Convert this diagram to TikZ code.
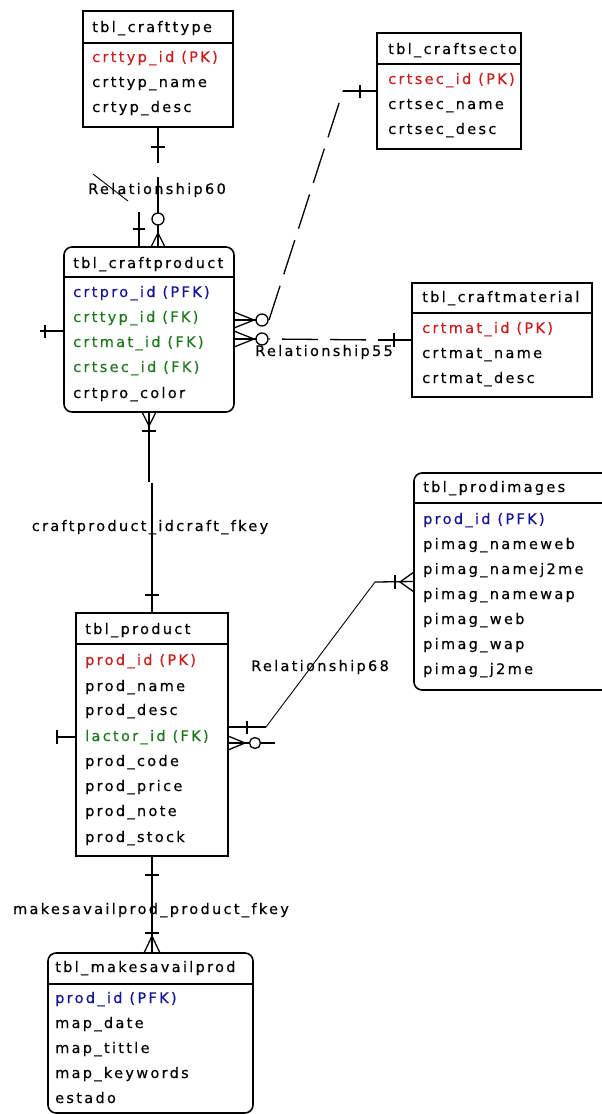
\documentclass[tikz,border=0pt]{standalone}
\usepackage{fontspec}
\setmainfont[LetterSpace=16,FakeBold=0.4]{DejaVu Sans}
\usetikzlibrary{calc}

\definecolor{pkred}{RGB}{200,30,30}
\definecolor{pfkblue}{RGB}{20,20,150}
\definecolor{fkgreen}{RGB}{30,120,30}

\begin{document}
\begin{tikzpicture}[x=1pt,y=-1pt,
  tbl/.style={draw,line width=1.6pt,inner sep=0pt,outer sep=0pt},
  rtbl/.style={tbl,rounded corners=8pt},
  txt/.style={anchor=base west,inner sep=0pt,font=\fontsize{14.5}{16}\selectfont},
  lbl/.style={anchor=base,inner sep=0pt,font=\fontsize{14.5}{16}\selectfont},
  rel/.style={line width=1.3pt},
  slim/.style={line width=0.9pt},
  dashrel/.style={rel,dash pattern=on 36pt off 12pt}]

\useasboundingbox[fill=white] (0,0) rectangle (602,1114);

% tables
\node[tbl,minimum width=150pt,minimum height=116pt] (crafttype) at (158,69) {};
\draw[tbl] ([yshift=-32pt]crafttype.north west) -- ([yshift=-32pt]crafttype.north east);
\node[txt] (ct0) at (92,32) {tbl\_crafttype};
\node[txt,text=pkred] (ct1) at (92,62) {crttyp\_id (PK)};
\node[txt] (ct2) at (92,87) {crttyp\_name};
\node[txt] (ct3) at (92,112) {crtyp\_desc};

\node[tbl,minimum width=144pt,minimum height=116pt] (craftsector) at (449,91) {};
\draw[tbl] ([yshift=-31pt]craftsector.north west) -- ([yshift=-31pt]craftsector.north east);
\begin{scope}
\clip (craftsector.north west) rectangle ([xshift=-1pt]craftsector.south east);
\node[txt] (cs0) at (388,54) {tbl\_craftsector};
\end{scope}
\node[txt,text=pkred] (cs1) at (388,84) {crtsec\_id (PK)};
\node[txt] (cs2) at (388,109) {crtsec\_name};
\node[txt] (cs3) at (388,134) {crtsec\_desc};

\node[tbl,minimum width=180pt,minimum height=114pt] (craftmaterial) at (502,340) {};
\draw[tbl] ([yshift=-30pt]craftmaterial.north west) -- ([yshift=-30pt]craftmaterial.north east);
\node[txt] (cm0) at (422,302) {tbl\_craftmaterial};
\node[txt,text=pkred] (cm1) at (422,333) {crtmat\_id (PK)};
\node[txt] (cm2) at (422,358) {crtmat\_name};
\node[txt] (cm3) at (422,383) {crtmat\_desc};

\node[rtbl,minimum width=170pt,minimum height=165pt] (craftproduct) at (149,329.5) {};
\draw[tbl] ([yshift=-30pt]craftproduct.north west) -- ([yshift=-30pt]craftproduct.north east);
\node[txt] (cp0) at (73,268) {tbl\_craftproduct};
\node[txt,text=pfkblue] (cp1) at (73,297) {crtpro\_id (PFK)};
\node[txt,text=fkgreen] (cp2) at (73,322) {crttyp\_id (FK)};
\node[txt,text=fkgreen] (cp3) at (73,347) {crtmat\_id (FK)};
\node[txt,text=fkgreen] (cp4) at (73,372) {crtsec\_id (FK)};
\node[txt] (cp5) at (73,398) {crtpro\_color};

\node[tbl,minimum width=152pt,minimum height=243pt] (product) at (152,734.5) {};
\draw[tbl] ([yshift=-31pt]product.north west) -- ([yshift=-31pt]product.north east);
\node[txt] (pr0) at (85,634) {tbl\_product};
\node[txt,text=pkred] (pr1) at (85,665) {prod\_id (PK)};
\node[txt] (pr2) at (85,691) {prod\_name};
\node[txt] (pr3) at (85,715) {prod\_desc};
\node[txt,text=fkgreen] (pr4) at (85,741) {lactor\_id (FK)};
\node[txt] (pr5) at (85,766) {prod\_code};
\node[txt] (pr6) at (85,791) {prod\_price};
\node[txt] (pr7) at (85,816) {prod\_note};
\node[txt] (pr8) at (85,842) {prod\_stock};

\node[rtbl,minimum width=208pt,minimum height=217pt] (prodimages) at (518,581.5) {};
\draw[tbl] ([yshift=-30pt]prodimages.north west) -- ([yshift=-30pt]prodimages.north east);
\node[txt] (pi0) at (423,492) {tbl\_prodimages};
\node[txt,text=pfkblue] (pi1) at (423,524) {prod\_id (PFK)};
\node[txt] (pi2) at (423,549) {pimag\_nameweb};
\node[txt] (pi3) at (423,574) {pimag\_namej2me};
\node[txt] (pi4) at (423,599) {pimag\_namewap};
\node[txt] (pi5) at (423,624) {pimag\_web};
\node[txt] (pi6) at (423,649) {pimag\_wap};
\node[txt] (pi7) at (423,674) {pimag\_j2me};

\node[rtbl,minimum width=205pt,minimum height=160pt] (makesavail) at (150.5,1033) {};
\draw[tbl] ([yshift=-31pt]makesavail.north west) -- ([yshift=-31pt]makesavail.north east);
\node[txt] (ma0) at (55,972) {tbl\_makesavailprod};
\node[txt,text=pfkblue] (ma1) at (55,1003) {prod\_id (PFK)};
\node[txt] (ma2) at (55,1028) {map\_date};
\node[txt] (ma3) at (55,1053) {map\_tittle};
\node[txt] (ma4) at (55,1078) {map\_keywords};
\node[txt] (ma5) at (55,1103) {estado};

% Relationship60
\draw[rel] (crafttype.south) -- ++(0,36);
\draw[rel] (crafttype.south |- 0,177) -- ++(0,36);
\draw[rel] (158,147) -- ++(-7,0) -- ++(14,0);
\draw[rel] (158,219) circle[radius=6pt];
\draw[rel] (158,225) -- (crafttype.south |- craftproduct.north);
\draw[rel] (151,247) -- (158,233) -- (165,247);
\draw[rel] (139,212) -- (139,247) (133,229) -- (145,229);
\draw[slim] (93,174) -- (128,201);
\node[lbl] (rel60) at (157,194) {Relationship60};

% left stub of craftproduct
\draw[rel] (craftproduct.west |- 0,331) -- (40,331) (45,325) -- (45,338);

% Relationship55
\coordinate (secbend) at (343,91);
\draw[rel] (craftsector.west) -- (secbend);
\draw[rel] (360,85) -- (360,98);
\draw[dashrel] (269,320) -- (secbend);
\draw[rel] (262,320) circle[radius=6pt];
\draw[rel] (craftproduct.east |- 0,312) -- (254,320) -- (craftproduct.east |- 0,328);
\draw[rel] (craftproduct.east |- 0,320) -- (256,320);
\coordinate (matbend) at (378,340);
\draw[rel] (craftmaterial.west) -- (matbend);
\draw[rel] (394,333) -- (394,347);
\draw[dashrel,dash phase=36pt] (matbend) -- (269,339);
\draw[rel] (262,339) circle[radius=6pt];
\draw[rel] (craftproduct.east |- 0,331) -- (254,339) -- (craftproduct.east |- 0,347);
\draw[rel] (craftproduct.east |- 0,339) -- (256,339);
\node[lbl] (rel55) at (324,356) {Relationship55};

% craftproduct_idcraft_fkey
\draw[rel] (craftproduct.south) -- ++(0,70);
\draw[rel] (product.north |- 0,483) -- (product.north);
\draw[rel] (142,412) -- (149,426) -- (156,412);
\draw[rel] (142,431) -- (156,431);
\draw[rel] (145,595) -- (159,595);
\node[lbl] (fk1) at (150,531) {craftproduct\_idcraft\_fkey};

% Relationship68
\coordinate (r68a) at (266,727);
\coordinate (r68b) at (375,582);
\draw[rel] (product.east |- 0,727) -- (r68a);
\draw[slim] (r68a) -- (r68b);
\draw[rel] (r68b) -- (prodimages.west);
\draw[rel] (247,721) -- (247,734);
\draw[rel] (395,575) -- (395,589);
\draw[rel] (prodimages.west |- 0,572) -- (400,582) -- (prodimages.west |- 0,592);
\node[lbl] (rel68) at (320,671) {Relationship68};

% other stubs of product
\draw[rel] (product.east |- 0,736) -- (245,743) -- (product.east |- 0,750);
\draw[rel] (product.east |- 0,743) -- (249,743);
\draw[rel] (255,743) circle[radius=5.5pt];
\draw[rel] (260.5,743) -- (275,743);
\draw[rel] (product.west |- 0,737) -- (57,737) (57,730) -- (57,744);

% makesavailprod_product_fkey
\draw[rel] (product.south) -- (product.south |- makesavail.north);
\draw[rel] (145,875) -- (159,875);
\draw[rel] (145,933) -- (159,933);
\draw[rel] (144,953) -- (152,936) -- (160,953);
\node[lbl] (fk2) at (151,914) {makesavailprod\_product\_fkey};

\end{tikzpicture}
\end{document}
